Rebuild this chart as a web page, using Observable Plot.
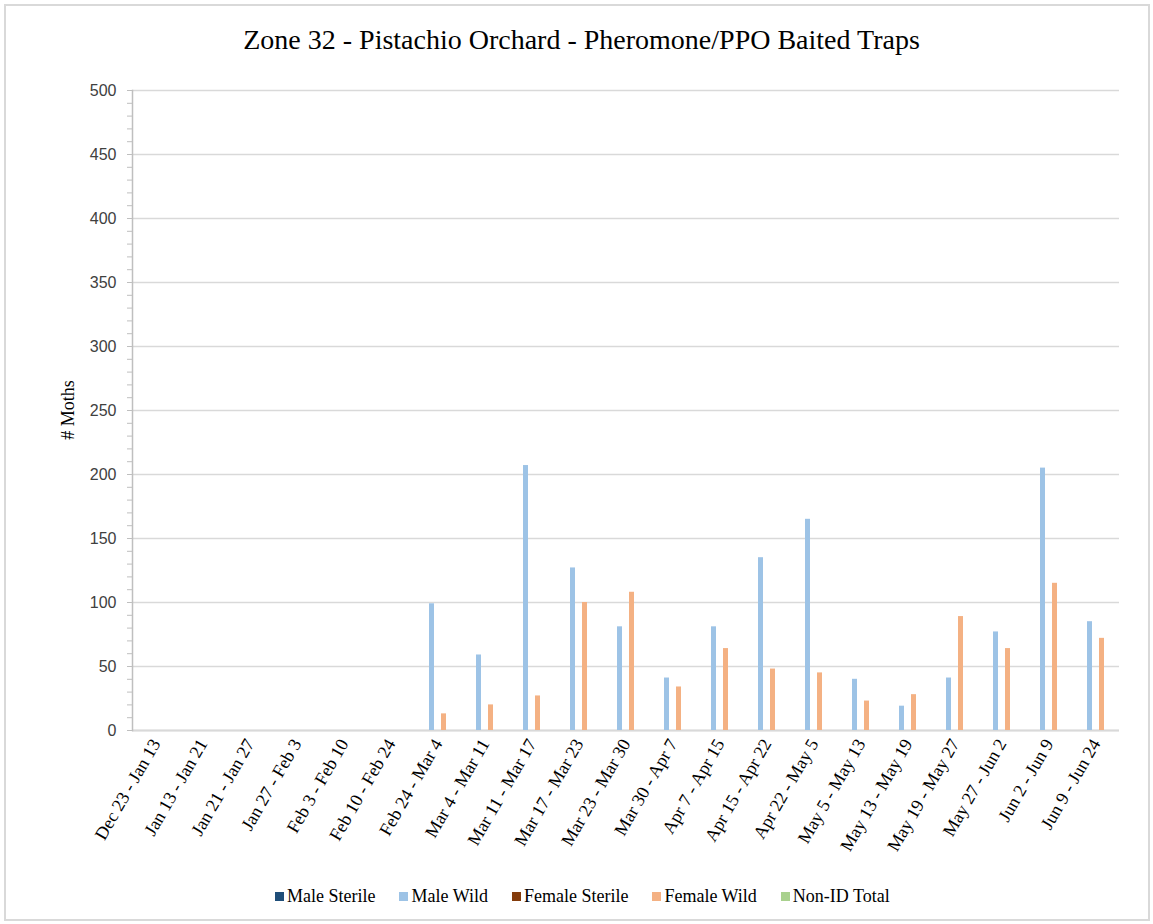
<!DOCTYPE html>
<html>
<head>
<meta charset="utf-8">
<script src="https://cdn.jsdelivr.net/npm/d3@7"></script>
<script src="https://cdn.jsdelivr.net/npm/@observablehq/plot@0.6"></script>
<style>
  body { margin: 0; background: #fff; }
  #wrap { position: relative; width: 1153px; height: 924px; overflow: hidden; }
  #border { position: absolute; left: 4px; top: 4px; width: 1142px; height: 913px; border: 2px solid #d9d9d9; }
  #title { position: absolute; top: 24px; left: 0; width: 1163px; text-align: center;
           font-family: "Liberation Serif", "Times New Roman", serif; font-size: 28px; color: #000; }
  #ylabel { position: absolute; left: 68px; top: 410px; transform: translate(-50%, -50%) rotate(-90deg);
            font-family: "Liberation Serif", "Times New Roman", serif; font-size: 18px; color: #000; white-space: nowrap; }
  #chart { position: absolute; left: 0; top: 60px; }
  #legend { position: absolute; left: 275px; top: 886px; display: flex; align-items: center;
            font-family: "Liberation Serif", "Times New Roman", serif; font-size: 18px; color: #000; }
  .item { display: flex; align-items: center; margin-right: 24px; }
  .sw { width: 9px; height: 9px; margin-right: 3px; }
</style>
</head>
<body>
<div id="wrap">
  <div id="border"></div>
  <div id="title">Zone 32 - Pistachio Orchard - Pheromone/PPO Baited Traps</div>
  <div id="ylabel"># Moths</div>
  <div id="chart"></div>
  <div id="legend"></div>
</div>
<script>
const categories = [
  "Dec 23 - Jan 13", "Jan 13 - Jan 21", "Jan 21 - Jan 27", "Jan 27 - Feb 3", "Feb 3 - Feb 10",
  "Feb 10 - Feb 24", "Feb 24 - Mar 4", "Mar 4 - Mar 11", "Mar 11 - Mar 17", "Mar 17 - Mar 23",
  "Mar 23 - Mar 30", "Mar 30 - Apr 7", "Apr 7 - Apr 15", "Apr 15 - Apr 22", "Apr 22 - May 5",
  "May 5 - May 13", "May 13 - May 19", "May 19 - May 27", "May 27 - Jun 2", "Jun 2 - Jun 9",
  "Jun 9 - Jun 24"
];
const seriesNames = ["Male Sterile", "Male Wild", "Female Sterile", "Female Wild", "Non-ID Total"];
const seriesColors = ["#1f4e79", "#9dc3e6", "#843c0c", "#f4b183", "#a9d18e"];

const maleSterile   = [0,0,0,0,0, 0,0,0,0,0, 0,0,0,0,0, 0,0,0,0,0, 0];
const maleWild      = [0,0,0,0,0, 0,99,59,207,127, 81,41,81,135,165, 40,19,41,77,205, 85];
const femaleSterile = [0,0,0,0,0, 0,0,0,0,0, 0,0,0,0,0, 0,0,0,0,0, 0];
const femaleWild    = [0,0,0,0,0, 0,13,20,27,100, 108,34,64,48,45, 23,28,89,64,115, 72];
const nonIdTotal    = [0,0,0,0,0, 0,0,0,0,0, 0,0,0,0,0, 0,0,0,0,0, 0];

const yTicks = [0, 50, 100, 150, 200, 250, 300, 350, 400, 450, 500];
const yMinorTicks = d3.range(0, 501, 10);

const seriesValues = [maleSterile, maleWild, femaleSterile, femaleWild, nonIdTotal];
const table = categories.flatMap((c, i) =>
  seriesNames.map((s, j) => ({category: c, series: s, value: seriesValues[j][i]}))
);

const font = '"Liberation Sans", Arial, sans-serif';
const serif = '"Liberation Serif", "Times New Roman", serif';

const chart = Plot.plot({
  width: 1153,
  height: 820,
  marginLeft: 128,
  marginRight: 30,
  marginTop: 30,
  marginBottom: 150,
  style: {background: "transparent", overflow: "visible"},
  fx: {domain: categories, padding: 0, label: null},
  x: {domain: seriesNames, axis: null, paddingInner: 1 / 7, paddingOuter: 0.96},
  y: {domain: [0, 500], label: null},
  color: {domain: seriesNames, range: seriesColors},
  marks: [
    Plot.gridY(yTicks, {stroke: "#d9d9d9", strokeOpacity: 1, strokeWidth: 1.5}),
    Plot.ruleY([0], {stroke: "#d9d9d9", strokeWidth: 2}),
    Plot.barY(table, {fx: "category", x: "series", y: "value", fill: "series"}),
    Plot.frame({anchor: "left", facetAnchor: "left", stroke: "#bfbfbf", strokeWidth: 1.5}),
    Plot.axisY(yMinorTicks, {tickSize: 5, tickFormat: () => "", stroke: "#bfbfbf", label: null}),
    Plot.axisY(yTicks, {tickSize: 0, tickPadding: 16, fontSize: 16, fontFamily: font, fill: "#404040", label: null}),
    Plot.axisFx({anchor: "bottom", tickRotate: -60, tickSize: 0, tickPadding: 10, fontSize: 18, fontFamily: serif, fill: "#000", label: null})
  ]
});
document.getElementById("chart").appendChild(chart);

const legend = document.getElementById("legend");
seriesNames.forEach((s, i) => {
  const item = document.createElement("div");
  item.className = "item";
  const sw = document.createElement("div");
  sw.className = "sw";
  sw.style.background = seriesColors[i];
  const t = document.createElement("span");
  t.textContent = s;
  item.appendChild(sw);
  item.appendChild(t);
  legend.appendChild(item);
});
</script>
</body>
</html>
